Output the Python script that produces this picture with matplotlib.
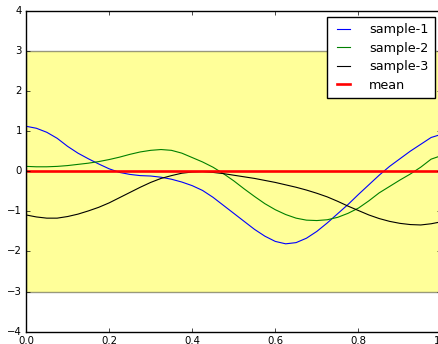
import numpy as np
import matplotlib
matplotlib.use("Agg")
import matplotlib.pyplot as plt

# sample grid (step 0.025) and the three drawn curves
x = [0.000, 0.025, 0.050, 0.075, 0.100, 0.125, 0.150, 0.175, 0.200, 0.225,
     0.250, 0.275, 0.300, 0.325, 0.350, 0.375, 0.400, 0.425, 0.450, 0.475,
     0.500, 0.525, 0.550, 0.575, 0.600, 0.625, 0.650, 0.675, 0.700, 0.725,
     0.750, 0.775, 0.800, 0.825, 0.850, 0.875, 0.900, 0.925, 0.950, 0.975,
     1.000]
sample_1 = [1.12, 1.07, 0.97, 0.82, 0.62, 0.45, 0.31, 0.18, 0.06, -0.03,
            -0.08, -0.11, -0.12, -0.15, -0.20, -0.27, -0.36, -0.48, -0.65, -0.85,
            -1.05, -1.25, -1.45, -1.62, -1.75, -1.81, -1.78, -1.67, -1.50, -1.29,
            -1.06, -0.83, -0.58, -0.34, -0.10, 0.12, 0.31, 0.50, 0.67, 0.84,
            0.92]
sample_2 = [0.12, 0.11, 0.11, 0.12, 0.14, 0.17, 0.20, 0.24, 0.29, 0.35,
            0.42, 0.48, 0.52, 0.54, 0.52, 0.45, 0.34, 0.23, 0.10, -0.06,
            -0.24, -0.44, -0.63, -0.81, -0.96, -1.08, -1.17, -1.22, -1.23, -1.21,
            -1.15, -1.05, -0.92, -0.74, -0.54, -0.38, -0.22, -0.07, 0.10, 0.30,
            0.39]
sample_3 = [-1.09, -1.14, -1.17, -1.17, -1.13, -1.07, -0.99, -0.90, -0.79, -0.66,
            -0.53, -0.40, -0.28, -0.18, -0.11, -0.05, -0.02, -0.01, -0.03, -0.06,
            -0.10, -0.14, -0.18, -0.23, -0.28, -0.34, -0.40, -0.47, -0.55, -0.64,
            -0.75, -0.87, -0.98, -1.09, -1.18, -1.25, -1.30, -1.33, -1.34, -1.31,
            -1.26]
mean = [0.0] * len(x)
band_lo, band_hi = -3.0, 3.0

plt.style.use('classic')
plt.rcParams['font.family'] = ['DejaVu Sans']
plt.rcParams['font.size'] = 7.3
plt.rcParams['xtick.major.size'] = 3
plt.rcParams['ytick.major.size'] = 3
plt.rcParams['xtick.minor.size'] = 0
plt.rcParams['ytick.minor.size'] = 0

fig = plt.figure(figsize=(4.39, 3.44), dpi=100, facecolor='white')
# right edge of the axes runs just past the figure border
ax = fig.add_axes([26 / 439, 12.3 / 344, 415.5 / 439, 321 / 344])

ax.fill_between(x, band_lo, band_hi, facecolor='yellow', edgecolor='black',
                alpha=0.4, linewidth=1.0)
ax.plot(x, sample_1, color='b', lw=0.8, label='sample-1')
ax.plot(x, sample_2, color='g', lw=0.8, label='sample-2')
ax.plot(x, sample_3, color='k', lw=0.8, label='sample-3')
ax.plot(x, mean, color='r', lw=1.9, label='mean')

ax.set_xlim(0, 1)
ax.set_ylim(-4, 4)
ax.tick_params(axis='both', labelsize=7.3, pad=3)

ax.legend(loc='upper right', fontsize=9.2, handlelength=1.6, handletextpad=1.2,
          labelspacing=0.42, borderpad=0.5, fancybox=False)

fig.savefig('out.png', dpi=100, facecolor='white')
